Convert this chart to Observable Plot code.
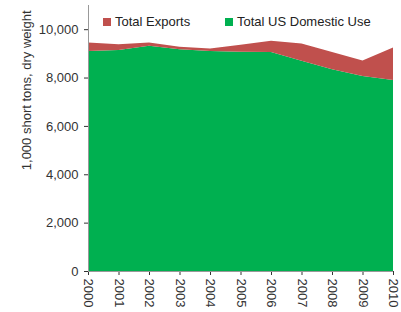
<!DOCTYPE html>
<html>
<head>
<meta charset="utf-8">
<script src="https://cdn.jsdelivr.net/npm/d3@7"></script>
<script src="https://cdn.jsdelivr.net/npm/@observablehq/plot@0.6"></script>
<style>
  html, body { margin: 0; padding: 0; background: #fff; }
  #wrap { position: relative; width: 401px; height: 312px; font-family: "Liberation Sans", Arial, sans-serif; }
  .legend { position: absolute; top: 14px; font-size: 13px; color: #222; display: flex; align-items: center; white-space: nowrap; }
  .sw { width: 8px; height: 8px; margin-right: 4px; display: inline-block; }
</style>
</head>
<body>
<div id="wrap"></div>
<script>
const years = [2000, 2001, 2002, 2003, 2004, 2005, 2006, 2007, 2008, 2009, 2010];
const domesticUse = [9100, 9140, 9310, 9170, 9100, 9070, 9060, 8690, 8340, 8060, 7900];
const exportsVals = [350, 240, 140, 100, 100, 290, 460, 720, 720, 650, 1340];
const seriesNames = ["Total US Domestic Use", "Total Exports"];
const seriesColors = ["#00b050", "#c0504d"];
const yTicks = [0, 2000, 4000, 6000, 8000, 10000];
const yLabel = "1,000 short tons, dry weight";

const rows = [];
years.forEach((yr, i) => {
  rows.push({year: yr, series: seriesNames[0], value: domesticUse[i]});
  rows.push({year: yr, series: seriesNames[1], value: exportsVals[i]});
});

const chart = Plot.plot({
  width: 401,
  height: 312,
  marginLeft: 88,
  marginRight: 8,
  marginTop: 5,
  marginBottom: 41,
  style: {fontFamily: "'Liberation Sans', Arial, sans-serif", fontSize: "13px", color: "#333", background: "#fff"},
  x: {domain: [2000, 2010], ticks: years, tickFormat: d => String(d), tickRotate: 90, tickSize: 4, tickPadding: 3, label: null},
  y: {domain: [0, 11000], ticks: yTicks, tickFormat: d3.format(","), tickSize: 4, tickPadding: 6, label: null},
  color: {domain: seriesNames, range: seriesColors},
  marks: [
    Plot.areaY(rows, {x: "year", y: "value", fill: "series", z: "series", order: seriesNames}),
    Plot.ruleX([2000], {stroke: "#999"}),
    Plot.ruleY([0], {stroke: "#999"}),
    Plot.text([yLabel], {text: d => d, frameAnchor: "top-left", rotate: -90, textAnchor: "end", dx: -67, dy: 5, fontSize: 13, fill: "#333"})
  ]
});
const wrap = document.getElementById("wrap");
wrap.appendChild(chart);

const legendItems = [
  {name: seriesNames[1], color: seriesColors[1], left: 103},
  {name: seriesNames[0], color: seriesColors[0], left: 225}
];
legendItems.forEach(it => {
  const d = document.createElement("div");
  d.className = "legend";
  d.style.left = it.left + "px";
  d.innerHTML = `<span class="sw" style="background:${it.color}"></span>${it.name}`;
  wrap.appendChild(d);
});
</script>
</body>
</html>
